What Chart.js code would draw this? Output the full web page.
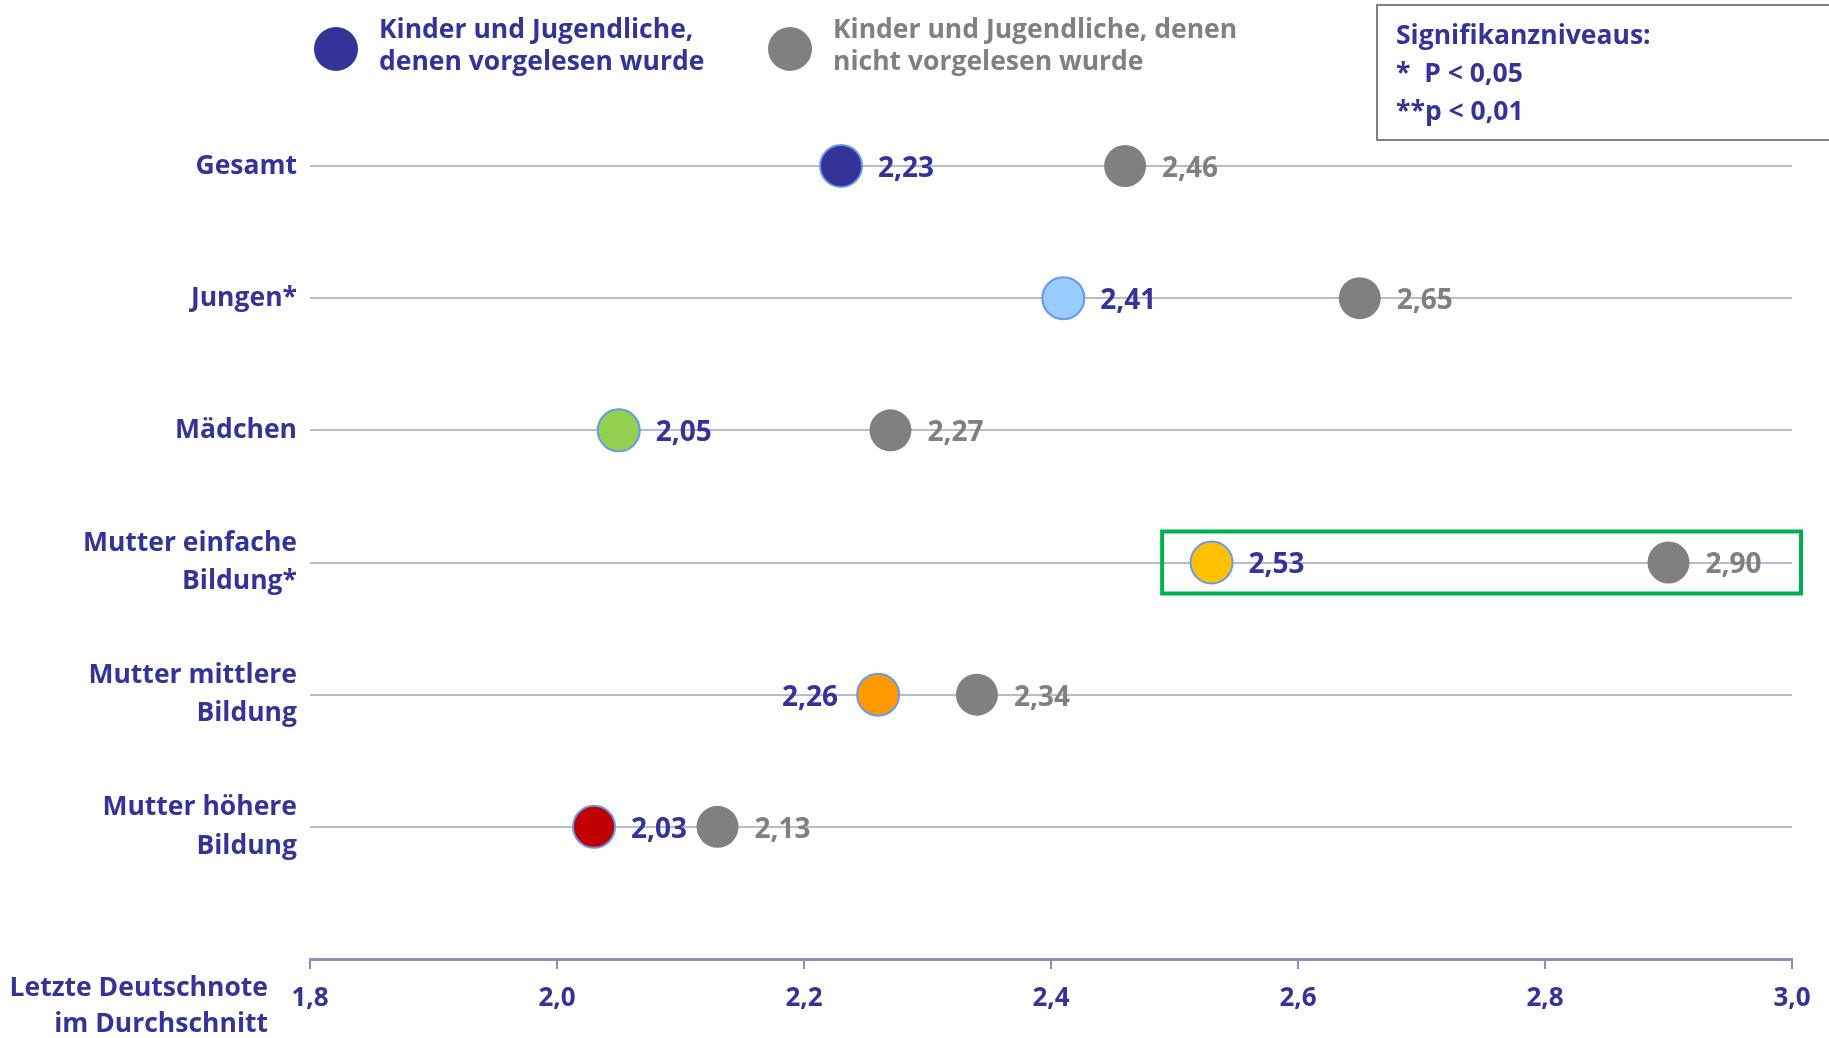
<!DOCTYPE html>
<html>
<head>
<meta charset="utf-8">
<script src="https://cdn.jsdelivr.net/npm/chart.js@4.4.0/dist/chart.umd.min.js"></script>
<style>
html, body { margin: 0; padding: 0; background: #fff; }
#wrap { width: 1829px; height: 1038px; }
</style>
</head>
<body>
<div id="wrap"><canvas id="dotChart"></canvas></div>
<script>
// categories top to bottom (multi-line labels as arrays)
const categories = ['Gesamt', 'Jungen*', 'Mädchen', ['Mutter einfache', 'Bildung*'], ['Mutter mittlere', 'Bildung'], ['Mutter höhere', 'Bildung']];
const readValues = [2.23, 2.41, 2.05, 2.53, 2.26, 2.03];
const notReadValues = [2.46, 2.65, 2.27, 2.90, 2.34, 2.13];
const pointColors = ['#333399', '#99ccff', '#92d050', '#ffc000', '#ff9900', '#c00000'];
const seriesNames = [['Kinder und Jugendliche,', 'denen vorgelesen wurde'], ['Kinder und Jugendliche, denen', 'nicht vorgelesen wurde']];
const xMin = 1.8, xMax = 3.0, xStep = 0.2;
const axisTitle = ['Letzte Deutschnote', 'im Durchschnitt'];
const sigLines = ['Signifikanzniveaus:', '*  P < 0,05', '**p < 0,01'];
const highlightRow = 3;
const labelLeftRows = [4];

const BLUE = '#333399';
const GREY = '#808080';
const FONT = '"Open Sans", Lato, sans-serif';

function fmt(v) { return v.toFixed(2).replace('.', ','); }

let yLabels = categories.concat(['']);

let readData = readValues.map((v, i) => ({ x: v, y: i }));
let notReadData = notReadValues.map((v, i) => ({ x: v, y: i }));

const extras = {
    id: 'extras',
    afterDatasetsDraw(chart) {
        const c = chart.ctx;
        const xs = chart.scales.x, ys = chart.scales.y;
        const area = chart.chartArea;
        c.save();
        c.font = 'bold 28px ' + FONT;
        c.textBaseline = 'middle';

        // value labels
        for (let i = 0; i < readValues.length; i++) {
            let y = ys.getPixelForValue(i) + 3;
            let p1 = xs.getPixelForValue(readValues[i]);
            c.fillStyle = BLUE;
            if (labelLeftRows.includes(i)) {
                c.textAlign = 'right';
                c.fillText(fmt(readValues[i]), p1 - 40, y);
            } else {
                c.textAlign = 'left';
                c.fillText(fmt(readValues[i]), p1 + 37, y);
            }
            let p2 = xs.getPixelForValue(notReadValues[i]);
            c.fillStyle = GREY;
            c.textAlign = 'left';
            c.fillText(fmt(notReadValues[i]), p2 + 37, y);
        }

        // green highlight box
        let hy = ys.getPixelForValue(highlightRow);
        let hx = xs.getPixelForValue(2.49);
        c.strokeStyle = '#00b050';
        c.lineWidth = 4;
        c.strokeRect(hx, hy - 31, area.right + 9 - hx, 62);

        c.font = 'bold 26.5px ' + FONT;
        // legend
        let lx = [336, 790];
        let colors = [BLUE, GREY];
        for (let s = 0; s < 2; s++) {
            c.beginPath();
            c.arc(lx[s], 49, 22, 0, Math.PI * 2);
            c.fillStyle = colors[s];
            c.fill();
            c.textAlign = 'left';
            c.fillStyle = colors[s];
            c.fillText(seriesNames[s][0], lx[s] + 43, 30);
            c.fillText(seriesNames[s][1], lx[s] + 43, 62);
        }

        // significance box
        c.strokeStyle = GREY;
        c.lineWidth = 2;
        c.strokeRect(1377, 5, 480, 135);
        c.fillStyle = BLUE;
        c.fillText(sigLines[0], 1396, 36);
        c.fillText(sigLines[1], 1396, 74);
        c.fillText(sigLines[2], 1396, 112);

        // x axis title
        c.textAlign = 'right';
        c.fillText(axisTitle[0], 268, 988);
        c.fillText(axisTitle[1], 268, 1024);
        c.restore();
    }
};

let ctx = document.getElementById('dotChart').getContext('2d');
let dotChart = new Chart(ctx, {
    type: 'scatter',
    data: {
        datasets: [{
            label: 'vorgelesen',
            data: readData,
            backgroundColor: pointColors,
            borderColor: '#6699ee',
            borderWidth: 2,
            pointRadius: 21,
            pointHoverRadius: 21,
            clip: false,
            order: 1
        }, {
            label: 'nicht vorgelesen',
            data: notReadData,
            backgroundColor: GREY,
            borderWidth: 0,
            pointRadius: 21,
            pointHoverRadius: 21,
            clip: false,
            order: 2
        }]
    },
    options: {
        responsive: true,
        maintainAspectRatio: false,
        animation: false,
        layout: { padding: { top: 166, right: 37, left: 0, bottom: 0 } },
        plugins: {
            legend: { display: false },
            tooltip: { enabled: false }
        },
        scales: {
            x: {
                type: 'linear',
                min: xMin,
                max: xMax,
                afterFit: function (scale) { scale.height = 79; },
                ticks: {
                    stepSize: xStep,
                    color: BLUE,
                    padding: 14,
                    font: { family: FONT, size: 26, weight: 'bold' },
                    callback: v => v.toFixed(1).replace('.', ',')
                },
                grid: {
                    drawOnChartArea: false,
                    drawTicks: true,
                    tickLength: 10,
                    color: '#8c8cba',
                    lineWidth: 2
                },
                border: { color: '#8f8fbf', width: 3 }
            },
            y: {
                type: 'category',
                labels: yLabels,
                offset: false,
                afterFit: function (scale) { scale.width = 310; },
                ticks: {
                    autoSkip: false,
                    color: BLUE,
                    padding: 13,
                    font: { family: FONT, size: 26.5, weight: 'bold', lineHeight: 1.45 }
                },
                grid: {
                    drawTicks: false,
                    color: c => c.index === yLabels.length - 1 ? 'rgba(0,0,0,0)' : '#b7bad3',
                    lineWidth: 2
                },
                border: { display: false }
            }
        }
    },
    plugins: [extras]
});
</script>
</body>
</html>
